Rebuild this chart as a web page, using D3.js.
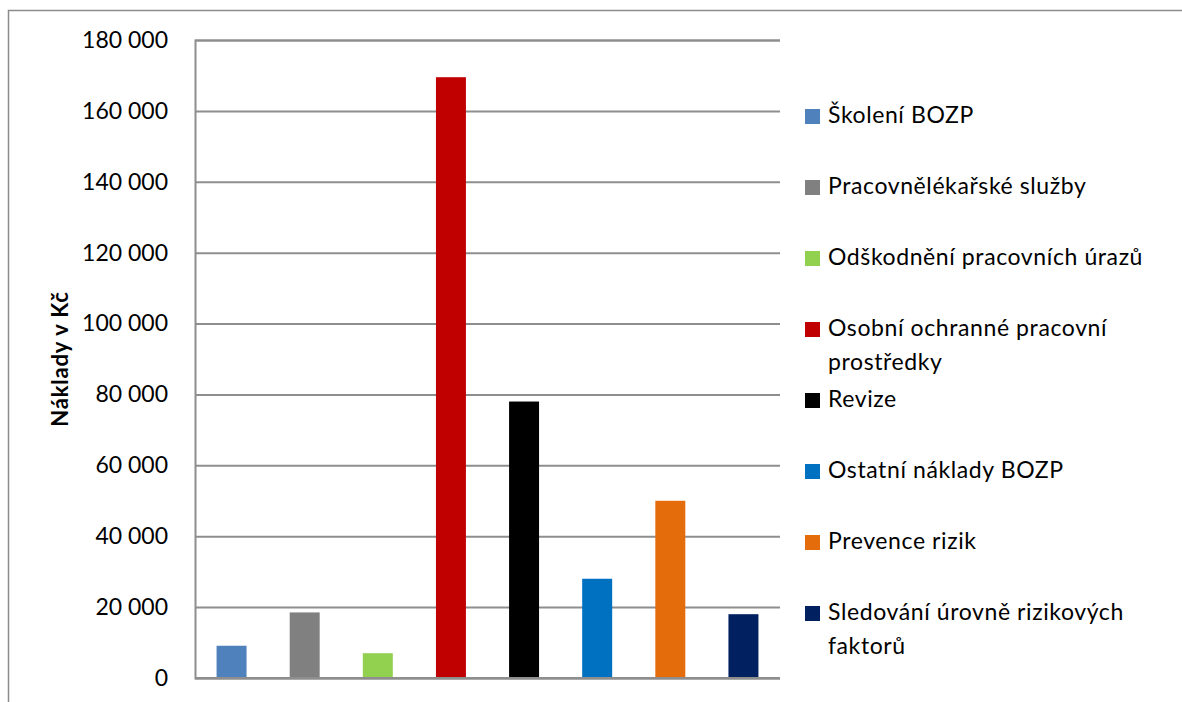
<!DOCTYPE html>
<html><head><meta charset="utf-8">
<script src="https://cdn.jsdelivr.net/npm/d3@7"></script>
<style>body{margin:0;background:#fff}svg{display:block}</style>
</head><body><svg id="c" width="1182" height="702"></svg>
<script>
const categories = ["Školení BOZP","Pracovnělékařské služby","Odškodnění pracovních úrazů","Osobní ochranné pracovní prostředky","Revize","Ostatní náklady BOZP","Prevence rizik","Sledování úrovně rizikových faktorů"];
const values = [9100, 18500, 7000, 169500, 78000, 28000, 50000, 18000];
const colors = ["#4f81bd","#808080","#92d050","#c00000","#000000","#0070c0","#e46c0a","#002060"];
const legendLines = [["Školení BOZP"],["Pracovnělékařské služby"],["Odškodnění pracovních úrazů"],["Osobní ochranné pracovní","prostředky"],["Revize"],["Ostatní náklady BOZP"],["Prevence rizik"],["Sledování úrovně rizikových","faktorů"]];
const yTicks = [0,20000,40000,60000,80000,100000,120000,140000,160000,180000];
const yTitle = "Náklady v Kč";

const svg = d3.select("#c");
const font = "Lato, 'Open Sans', sans-serif";
// outer frame
svg.append("path").attr("d","M8.5,712 V10.5 H1192").attr("fill","none").attr("stroke","#8c8c8c").attr("stroke-width",1.5);

const L=195, R=780, T=40, B=678;
const x = d3.scaleBand().domain(categories).range([L,R]).paddingInner(0.59).paddingOuter(0.295);
const y = d3.scaleLinear().domain([0,180000]).range([B,T]);

const fmt = v => d3.format(",")(v).replace(/,/g," ");
const yAxis = d3.axisLeft(y).tickValues(yTicks).tickSize(-(R-L)).tickPadding(27).tickFormat(fmt);
const ga = svg.append("g").attr("transform",`translate(${L},0)`).call(yAxis);
ga.select(".domain").attr("stroke","#8e8e8e").attr("stroke-width",2);
ga.selectAll(".tick line").attr("stroke","#8e8e8e").attr("stroke-width",2);
ga.selectAll(".tick text").attr("font-family",font).attr("font-size",23).attr("fill","#000");

svg.append("g").selectAll("rect").data(values).join("rect")
  .attr("x",(d,i)=>x(categories[i])).attr("width",x.bandwidth())
  .attr("y",d=>y(d)).attr("height",d=>B-y(d)).attr("fill",(d,i)=>colors[i]);

svg.append("line").attr("x1",L).attr("x2",R).attr("y1",B).attr("y2",B).attr("stroke","#8e8e8e").attr("stroke-width",2);

svg.append("text").attr("transform",`translate(68,${(T+B)/2}) rotate(-90)`).attr("text-anchor","middle")
  .attr("font-family",font).attr("font-size",22).attr("font-weight","bold").attr("letter-spacing",0.8).text(yTitle);

// legend
const lg = svg.append("g");
const startY = 116, step = 71;
legendLines.forEach((lines,i)=>{
  const cy = startY + step*i;
  lg.append("rect").attr("x",805).attr("y",cy-7).attr("width",15).attr("height",15).attr("fill",colors[i]);
  lines.forEach((t,j)=>{
    lg.append("text").attr("x",828).attr("y",cy+7+j*34).attr("font-family",font).attr("font-size",23).attr("letter-spacing",0.6).attr("fill","#000").text(t);
  });
});
</script></body></html>
